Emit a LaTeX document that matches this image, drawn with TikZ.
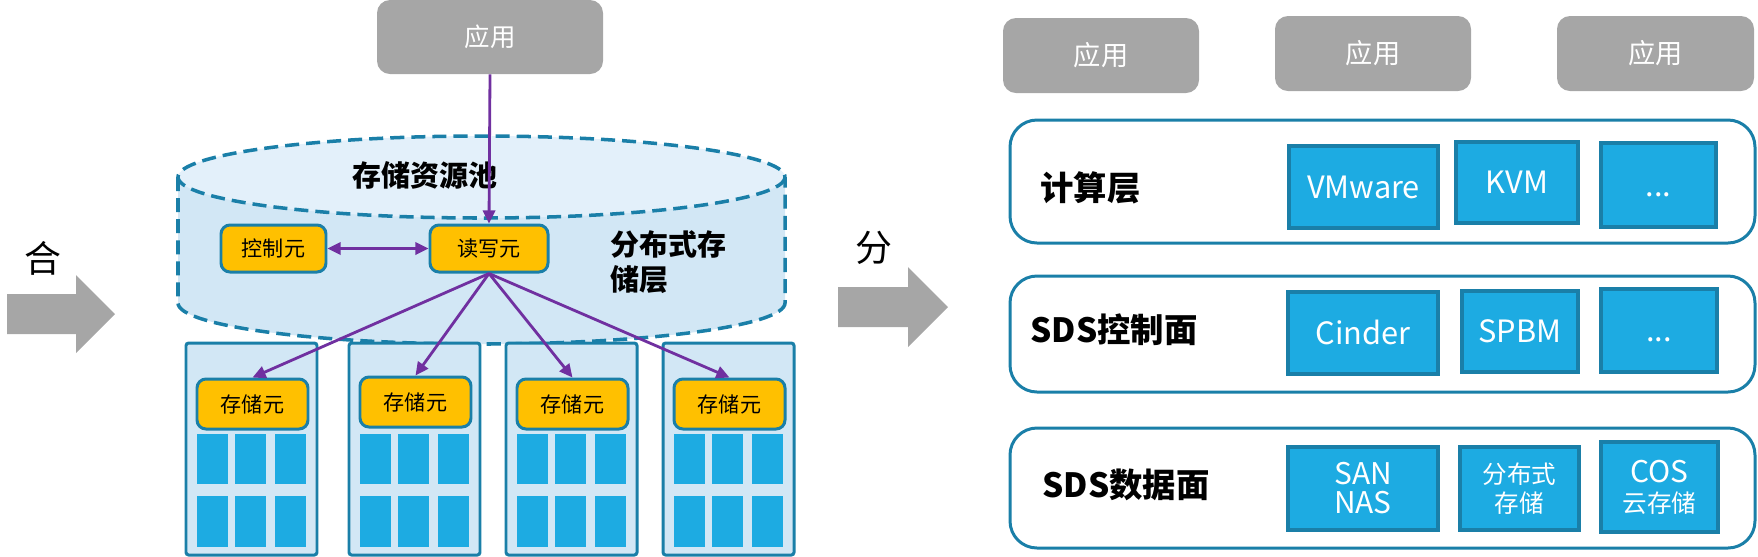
\documentclass[tikz,border=0pt]{standalone}
\usepackage{fontspec}
\setmainfont{Noto Sans CJK SC}
\usetikzlibrary{fit,arrows.meta}
\definecolor{appgray}{HTML}{A6A6A6}
\definecolor{tealb}{HTML}{1A7FA8}
\definecolor{diskblue}{HTML}{1DABE2}
\definecolor{orangebox}{HTML}{FFC000}
\definecolor{cylbody}{HTML}{D2E7F5}
\definecolor{cyltop}{HTML}{E3F0FA}
\definecolor{purp}{HTML}{7030A0}
\begin{document}
\begin{tikzpicture}[x=0.02cm,y=-0.02cm,
  appbox/.style={fill=appgray,draw=none,rounded corners=0.26cm,inner sep=0pt},
  apptext/.style={font=\fontsize{14.5}{16}\selectfont,text=white,inner sep=0pt},
  orbox/.style={fill=orangebox,draw=tealb,line width=1.7pt,rounded corners=0.18cm,inner sep=0pt},
  ortext/.style={font=\fontsize{12}{14}\selectfont,inner sep=0pt},
  rackbox/.style={fill=cylbody,draw=tealb,line width=1.7pt,rounded corners=1.5pt,inner sep=0pt},
  layerbox/.style={fill=white,draw=tealb,line width=1.7pt,rounded corners=0.54cm,inner sep=0pt},
  bluebox/.style={fill=diskblue,draw=tealb,line width=2pt,inner sep=0pt},
  latintext/.style={font=\fontsize{17.5}{16.5}\selectfont,text=white,inner sep=0pt,text height=12.8pt,text depth=0pt},
  multitext/.style={text=white,align=center,inner sep=0pt},
  parrow/.style={draw=purp,line width=1.6pt,-{Triangle[length=7.5pt,width=7pt]}},
  cyldash/.style={draw=tealb,line width=2pt,dash pattern=on 8pt off 4pt},
  bigtxt/.style={font=\bfseries\fontsize{16.5}{20}\selectfont,inner sep=0pt},
  layertxt/.style={font=\bfseries\fontsize{19}{22}\selectfont,anchor=west,inner sep=0pt},
  bigarrow/.style={fill=appgray,draw=none},
]
\useasboundingbox (0,0) rectangle (1758,556);

% ---------- left big arrow ----------
\fill[bigarrow] (7,294) -- (76,294) -- (76,275) -- (115,314) -- (76,353) -- (76,334) -- (7,334) -- cycle;
\node[font=\fontsize{21}{24}\selectfont,inner sep=0pt] (he) at (43,258) {合};

% ---------- top application ----------
\node[appbox,fit={(377,0) (603,74)},label={[apptext]center:应用}] (app0) {};

% ---------- cylinder ----------
\fill[cylbody] (178,177) -- (178,303) arc[start angle=180,end angle=0,x radius=303.5,y radius=41] -- (785,177) -- cycle;
\fill[cyltop] (481.5,177) ellipse[x radius=303.5,y radius=41];
\draw[cyldash] (481.5,177) ellipse[x radius=303.5,y radius=41];
\draw[cyldash] (178,177) -- (178,303) arc[start angle=180,end angle=0,x radius=303.5,y radius=41] -- (785,177);

\node[bigtxt] (pool) at (425,175) {存储资源池};
\node[bigtxt,anchor=west,align=left] (layer) at (610,262) {分布式存\\储层};

\node[orbox,fit={(221,225) (326,272)},label={[ortext]center:控制元}] (ctl) {};
\node[orbox,fit={(430,225) (548,272)},label={[ortext]center:读写元}] (rw) {};

\draw[parrow] (app0.south) -- (rw.north);
\draw[draw=purp,line width=1.6pt,{Triangle[length=7.5pt,width=7pt]}-{Triangle[length=7.5pt,width=7pt]}] (ctl.east) -- (rw.west);

% ---------- racks ----------
\foreach \i/\L/\d in {1/186/0,2/349/-2,3/506/0,4/663/0}{
  \node[rackbox,fit={(\L,343) (\L+131,555)}] (rack\i) {};
  \node[orbox,fit={(\L+11,379+\d) (\L+122,429+\d)},label={[ortext]center:存储元}] (se\i) {};
  \foreach \a/\b in {11/42,49/80,89/120}{
    \fill[diskblue] (\L+\a,434) rectangle (\L+\b,484);
    \fill[diskblue] (\L+\a,496) rectangle (\L+\b,547);
  }
}
\foreach \i in {1,2,3,4}{
  \draw[parrow] (rw.south) -- (se\i.north);
}

% ---------- right big arrow ----------
\fill[bigarrow] (838,287) -- (908,287) -- (908,267) -- (948,307) -- (908,347) -- (908,327) -- (838,327) -- cycle;
\node[font=\fontsize{21}{24}\selectfont,inner sep=0pt] (fen) at (874,248) {分};

% ---------- right applications ----------
\node[appbox,fit={(1003,18) (1199,93)},label={[apptext,font=\fontsize{15.5}{17}\selectfont]center:应用}] (app1) {};
\node[appbox,fit={(1275,16) (1471,91)},label={[apptext,font=\fontsize{15.5}{17}\selectfont]center:应用}] (app2) {};
\node[appbox,fit={(1557,16) (1754,91)},label={[apptext,font=\fontsize{15.5}{17}\selectfont]center:应用}] (app3) {};

% ---------- layers ----------
\node[layerbox,fit={(1010,120) (1755,243)}] (L1) {};
\node[layerbox,fit={(1010,276) (1755,392)}] (L2) {};
\node[layerbox,fit={(1010,428) (1755,548)}] (L3) {};

\node[layertxt] (t1) at (1040,188) {计算层};
\node[layertxt] (t2) at (1030,330) {SDS控制面};
\node[layertxt] (t3) at (1042,485) {SDS数据面};

\node[bluebox,fit={(1289,146) (1438,228)},label={[latintext]center:VMware}] (vm) {};
\node[bluebox,fit={(1456,142) (1578,223)},label={[latintext]center:KVM}] (kvm) {};
\node[bluebox,fit={(1601,143) (1716,227)},label={[latintext]center:...}] (d1) {};

\node[bluebox,fit={(1288,292) (1438,374)},label={[latintext]center:Cinder}] (cin) {};
\node[bluebox,fit={(1462,291) (1578,372)},label={[latintext]center:SPBM}] (spbm) {};
\node[bluebox,fit={(1601,289) (1717,372)},label={[latintext]center:...}] (d2) {};

\node[bluebox,fit={(1288,447) (1438,530)},label={[multitext,font=\fontsize{17}{16.5}\selectfont]center:{SAN\\NAS}}] (san) {};
\node[bluebox,fit={(1460,447) (1579,530)},label={[multitext,font=\fontsize{14}{16.5}\selectfont]center:{分布式\\存储}}] (fbs) {};
\node[bluebox,fit={(1601,442) (1718,532)},label={[multitext,font=\fontsize{14}{17}\selectfont]center:{{\fontsize{17}{17}\selectfont COS}\\云存储}}] (cos) {};
\end{tikzpicture}
\end{document}
